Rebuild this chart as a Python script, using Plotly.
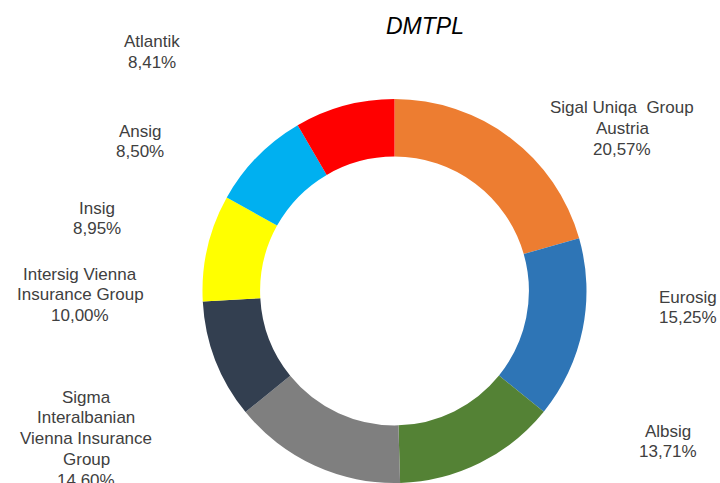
import plotly.graph_objects as go

# data (market share, %)
companies = [
    "Sigal Uniqa  Group<br>Austria",
    "Eurosig",
    "Albsig",
    "Sigma<br>Interalbanian<br>Vienna Insurance<br>Group",
    "Intersig Vienna<br>Insurance Group",
    "Insig",
    "Ansig",
    "Atlantik",
]
shares = [20.57, 15.25, 13.71, 14.60, 10.00, 8.95, 8.50, 8.41]
colors = ["#ED7D31", "#2E75B6", "#548235", "#7F7F7F",
          "#333F50", "#FFFF00", "#00B0F0", "#FF0000"]

# label placement (pixel centre x, centre y of first line)
label_pos = [(622, 108), (688, 297), (668, 431), (86, 397),
             (80, 274), (97, 208), (140, 131), (152, 42)]

W, H = 720, 483
LINE = 20.8

fig = go.Figure()
fig.add_trace(go.Pie(
    labels=[c.replace("<br>", " ") for c in companies],
    values=shares,
    hole=0.70,
    sort=False,
    direction="clockwise",
    rotation=0,
    textinfo="none",
    marker=dict(colors=colors, line=dict(width=0)),
    domain=dict(x=[202 / W, 587 / W], y=[0, 1 - 99 / H]),
    showlegend=False,
))

anns = []
for name, val, (px, py) in zip(companies, shares, label_pos):
    lines = name.split("<br>") + [f"{val:.2f}".replace(".", ",") + "%"]
    for i, ln in enumerate(lines):
        anns.append(dict(
            text=ln, x=px / W, y=1 - (py + i * LINE) / H,
            xref="paper", yref="paper", xanchor="center", yanchor="middle",
            showarrow=False,
            font=dict(family="Liberation Sans, Arial", size=17, color="#404040"),
        ))

anns.append(dict(
    text="<i>DMTPL</i>", x=425 / W, y=1 - 26 / H,
    xref="paper", yref="paper", xanchor="center", yanchor="middle",
    showarrow=False,
    font=dict(family="Liberation Sans, Arial", size=23, color="#000000"),
))

fig.update_layout(
    width=W, height=H,
    margin=dict(l=0, r=0, t=0, b=0),
    paper_bgcolor="white",
    plot_bgcolor="white",
    annotations=anns,
)

# drop the default body margin so the figure sits at the window's corner
fig.write_html("out.html",
               config={"displayModeBar": False},
               post_script="document.body.style.margin='0';document.body.style.overflow='hidden';")
